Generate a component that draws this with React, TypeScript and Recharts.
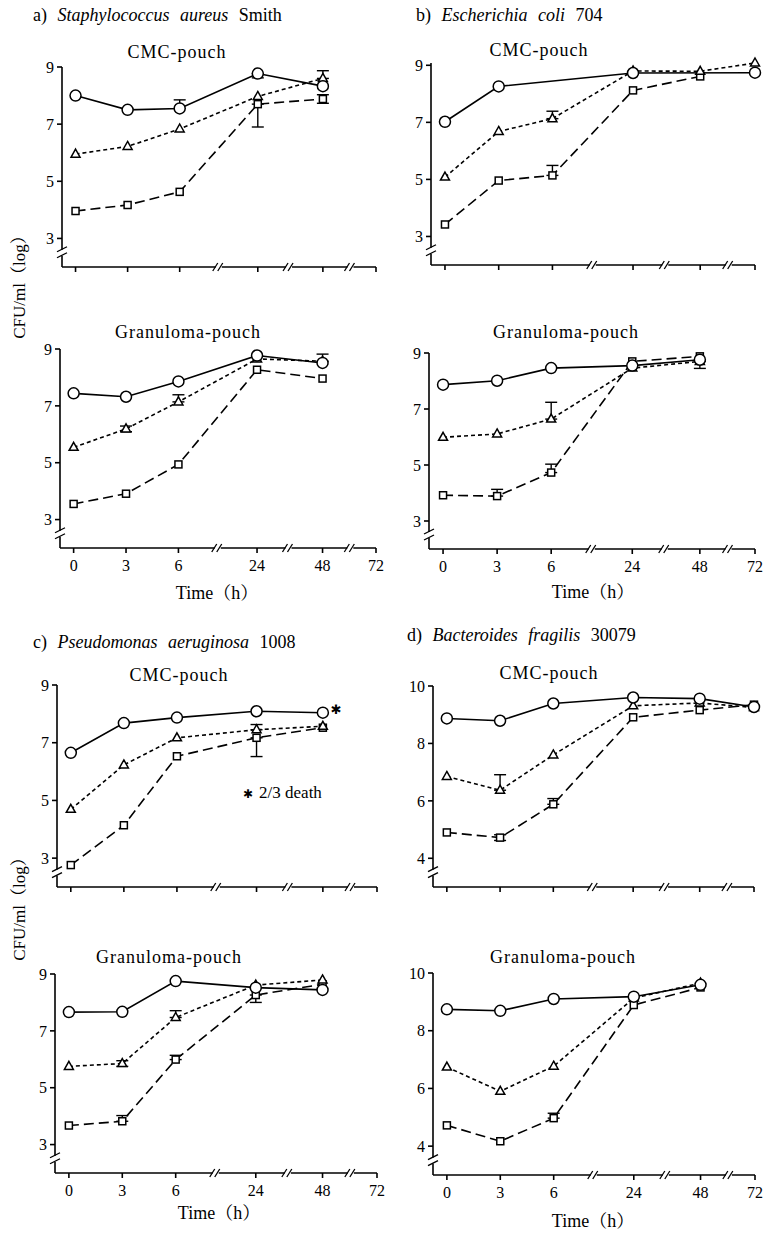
import React from "react";
import { LineChart, Line, XAxis, YAxis, ErrorBar, ReferenceDot } from "recharts";

const SERIF = "Liberation Serif, Noto Serif CJK JP, serif";

// broken time axis: each tick time sits in its own slot
const timeTicks = [0, 3, 6, 24, 48, 72];
const tickSlots = [0, 1, 2, 3.5, 4.75, 5.77];
const xBreaks = [2.75, 4.1, 5.28];

const times5 = [0, 3, 6, 24, 48];
const times6 = [0, 3, 6, 24, 48, 72];

const ticksLow = [3, 5, 7, 9];
const ticksHigh = [4, 6, 8, 10];

// a) Staphylococcus aureus Smith
const aCmcO = [8.0, 7.5, 7.55, 8.77, 8.33];
const aCmcOErr = [0, 0, [0, 0.3], [0.15, 0], 0];
const aCmcT = [5.95, 6.22, 6.83, 7.97, 8.6];
const aCmcTErr = [0, 0, 0, 0, [0, 0.27]];
const aCmcS = [3.96, 4.17, 4.63, 7.7, 7.88];
const aCmcSErr = [0, 0, 0, [0.8, 0], [0.15, 0.15]];

const aGraO = [7.44, 7.32, 7.86, 8.77, 8.51];
const aGraT = [5.54, 6.19, 7.14, 8.65, 8.57];
const aGraTErr = [0, [0.1, 0.1], [0, 0.25], 0, [0, 0.25]];
const aGraS = [3.55, 3.91, 4.94, 8.27, 7.96];

// b) Escherichia coli 704
const bCmcO = [7.02, 8.26, null, 8.73, null, 8.74];
const bCmcT = [5.08, 6.68, 7.13, 8.8, 8.79, 9.08];
const bCmcTErr = [0, 0, [0, 0.26], 0, 0, 0];
const bCmcS = [3.42, 4.96, 5.14, 8.12, 8.61, null];
const bCmcSErr = [0, 0, [0, 0.35], 0, 0, 0];

const bGraO = [7.87, 8.01, 8.46, 8.55, 8.76];
const bGraT = [5.99, 6.11, 6.64, 8.46, 8.7];
const bGraTErr = [0, 0, [0, 0.6], 0, [0.25, 0]];
const bGraS = [3.92, 3.89, 4.73, 8.7, 8.88];
const bGraSErr = [0, [0, 0.24], [0, 0.3], 0, 0];

// c) Pseudomonas aeruginosa 1008
const cCmcO = [6.65, 7.68, 7.87, 8.09, 8.04];
const cCmcT = [4.69, 6.23, 7.17, 7.45, 7.57];
const cCmcTErr = [0, 0, 0, [0, 0.18], 0];
const cCmcS = [2.76, 4.14, 6.53, 7.17, 7.52];
const cCmcSErr = [0, 0, 0, [0.65, 0], 0];

const cGraO = [7.66, 7.67, 8.75, 8.52, 8.44];
const cGraT = [5.75, 5.85, 7.47, 8.61, 8.79];
const cGraTErr = [0, [0.1, 0.1], [0, 0.24], 0, 0];
const cGraS = [3.67, 3.82, 5.99, 8.26, 8.64];
const cGraSErr = [0, [0, 0.2], [0, 0.15], [0.26, 0], 0];

// d) Bacteroides fragilis 30079
const dCmcO = [8.87, 8.79, 9.39, 9.6, 9.56, 9.27];
const dCmcT = [6.85, 6.37, 7.6, 9.31, 9.41, 9.25];
const dCmcTErr = [0, [0, 0.54], 0, 0, 0, 0];
const dCmcS = [4.9, 4.72, 5.88, 8.91, 9.16, 9.35];
const dCmcSErr = [0, [0.1, 0.1], [0, 0.2], 0, 0, 0];

const dGraO = [8.74, 8.69, 9.1, 9.18, 9.59];
const dGraT = [6.74, 5.9, 6.77, 9.13, 9.65];
const dGraS = [4.72, 4.17, 4.97, 8.89, 9.5];
const dGraSErr = [0, 0, [0, 0.17], 0, 0];

const slot = (t: number) => tickSlots[timeTicks.indexOf(t)];

const rows = (times: number[], values: (number | null)[], errs?: any[]) =>
  times.map((t, i) => ({
    x: slot(t),
    y: values[i],
    err: errs && errs[i] ? errs[i] : undefined,
  }));

const dashes: Record<string, string | undefined> = {
  circle: undefined,
  triangle: "4 3",
  square: "10 5",
};

const Marker = ({ cx, cy, kind }: any) => {
  const common = { fill: "#fff", stroke: "#000", strokeWidth: 1.5 };
  if (kind === "circle") return <circle cx={cx} cy={cy} r={5.5} {...common} />;
  if (kind === "triangle")
    return <path d={`M${cx},${cy - 5} L${cx + 4.5},${cy + 3} L${cx - 4.5},${cy + 3} Z`} {...common} />;
  return <rect x={cx - 3.5} y={cy - 3.5} width={7} height={7} {...common} />;
};

const XBreak = ({ cx, cy }: any) => (
  <g>
    <rect x={cx - 3} y={cy - 2} width={6} height={4} fill="#fff" />
    <line x1={cx - 6} y1={cy + 4} x2={cx - 1} y2={cy - 4} stroke="#000" strokeWidth={1.3} />
    <line x1={cx - 1} y1={cy + 4} x2={cx + 4} y2={cy - 4} stroke="#000" strokeWidth={1.3} />
  </g>
);

const YBreak = ({ cx, cy }: any) => (
  <g>
    <rect x={cx - 2} y={cy - 3} width={4} height={6} fill="#fff" />
    <line x1={cx - 5} y1={cy - 1} x2={cx + 5} y2={cy - 6} stroke="#000" strokeWidth={1.3} />
    <line x1={cx - 5} y1={cy + 5} x2={cx + 5} y2={cy} stroke="#000" strokeWidth={1.3} />
  </g>
);

const Star = ({ cx, cy }: any) => (
  <text x={cx + 8} y={cy + 1} fontSize={13} fontFamily="DejaVu Sans" fill="#000">
    ✱
  </text>
);

const series = (times: number[], o: any[], t: any[], s: any[], oe?: any[], te?: any[], se?: any[]) => [
  { kind: "square", data: rows(times, s, se) },
  { kind: "triangle", data: rows(times, t, te) },
  { kind: "circle", data: rows(times, o, oe) },
];

const panels = [
  { id: "aC", L: 62, T: 67, W: 314, H: 200, yMin: 2, yMax: 9, yTicks: ticksLow, labels: false,
    lines: series(times5, aCmcO, aCmcT, aCmcS, aCmcOErr, aCmcTErr, aCmcSErr) },
  { id: "aG", L: 60, T: 349, W: 316, H: 199, yMin: 2, yMax: 9, yTicks: ticksLow, labels: true,
    lines: series(times5, aGraO, aGraT, aGraS, undefined, aGraTErr) },
  { id: "bC", L: 431, T: 63, W: 324, H: 202, yMin: 2, yMax: 9, yTicks: ticksLow, labels: false,
    lines: series(times6, bCmcO, bCmcT, bCmcS, undefined, bCmcTErr, bCmcSErr) },
  { id: "bG", L: 429, T: 353, W: 326, H: 196, yMin: 2, yMax: 9, yTicks: ticksLow, labels: true,
    lines: series(times5, bGraO, bGraT, bGraS, undefined, bGraTErr, bGraSErr) },
  { id: "cC", L: 57, T: 685, W: 320, H: 202, yMin: 2, yMax: 9, yTicks: ticksLow, labels: false,
    lines: series(times5, cCmcO, cCmcT, cCmcS, undefined, cCmcTErr, cCmcSErr), star: true },
  { id: "cG", L: 55, T: 974, W: 322, H: 199, yMin: 2, yMax: 9, yTicks: ticksLow, labels: true,
    lines: series(times5, cGraO, cGraT, cGraS, undefined, cGraTErr, cGraSErr) },
  { id: "dC", L: 433, T: 686, W: 321, H: 201, yMin: 3, yMax: 10, yTicks: ticksHigh, labels: false,
    lines: series(times6, dCmcO, dCmcT, dCmcS, undefined, dCmcTErr, dCmcSErr) },
  { id: "dG", L: 433, T: 973, W: 322, H: 202, yMin: 3, yMax: 10, yTicks: ticksHigh, labels: true,
    lines: series(times5, dGraO, dGraT, dGraS, undefined, undefined, dGraSErr) },
];

const ML = 45, MT = 10, MR = 25, MB = 35;
const xMin = -0.26, xMax = tickSlots[tickSlots.length - 1];
const axisStyle = { stroke: "#000", strokeWidth: 1.6 };
const tickFont = { fill: "#000", fontSize: 16, fontFamily: "Liberation Serif" };

const Panel = ({ p }: any) => (
  <div style={{ position: "absolute", left: p.L - ML, top: p.T - MT }}>
    <LineChart width={p.W + ML + MR} height={p.H + MT + MB} margin={{ top: MT, right: MR, bottom: 5, left: 5 }}>
      <XAxis
        type="number"
        dataKey="x"
        domain={[xMin, xMax]}
        ticks={tickSlots}
        interval={0}
        height={30}
        tickSize={5}
        tickMargin={7}
        axisLine={axisStyle}
        tickLine={axisStyle}
        tick={tickFont}
        tickFormatter={(v: number) => (p.labels ? String(timeTicks[tickSlots.indexOf(v)]) : "")}
      />
      <YAxis
        type="number"
        domain={[p.yMin, p.yMax]}
        ticks={p.yTicks}
        interval={0}
        width={40}
        tickSize={5}
        tickMargin={3}
        axisLine={axisStyle}
        tickLine={axisStyle}
        tick={tickFont}
      />
      {p.lines.map((s: any) => (
        <Line
          key={s.kind}
          data={s.data}
          dataKey="y"
          type="linear"
          stroke="#000"
          strokeWidth={1.6}
          strokeDasharray={dashes[s.kind]}
          connectNulls
          isAnimationActive={false}
          activeDot={false}
          dot={(d: any) =>
            d.cx == null || d.cy == null || d.value == null ? (
              <g key={`n${d.index}`} />
            ) : (
              <Marker key={`m${d.index}`} cx={d.cx} cy={d.cy} kind={s.kind} />
            )
          }
        >
          <ErrorBar dataKey="err" direction="y" width={6} stroke="#000" strokeWidth={1.4} />
        </Line>
      ))}
      {xBreaks.map((b) => (
        <ReferenceDot key={b} x={b} y={p.yMin} r={0} ifOverflow="visible" shape={(d: any) => <XBreak cx={d.cx} cy={d.cy} />} />
      ))}
      <ReferenceDot x={xMin} y={p.yMin + 0.5} r={0} ifOverflow="visible" shape={(d: any) => <YBreak cx={d.cx} cy={d.cy} />} />
      {p.star && (
        <ReferenceDot x={slot(48)} y={cCmcO[4]} r={0} ifOverflow="visible" shape={(d: any) => <Star cx={d.cx} cy={d.cy} />} />
      )}
    </LineChart>
  </div>
);

const Txt = ({ x, y, size = 18, center = false, rotate = false, style, children }: any) => (
  <div
    style={{
      position: "absolute",
      left: x,
      top: y,
      transform: `translate(${center ? "-50%" : "0"}, -50%)${rotate ? " rotate(-90deg)" : ""}`,
      whiteSpace: "nowrap",
      fontSize: size,
      lineHeight: 1,
      fontFamily: SERIF,
      color: "#000",
      ...style,
    }}
  >
    {children}
  </div>
);

const titleStyle = { wordSpacing: 6 };
const subStyle = { letterSpacing: 1 };

export default function App() {
  return (
    <div style={{ position: "absolute", left: 0, top: 0, width: 769, height: 1233, background: "#fff" }}>
      {panels.map((p) => (
        <Panel key={p.id} p={p} />
      ))}

      <Txt x={33} y={15} style={titleStyle}>a) <i>Staphylococcus aureus</i> Smith</Txt>
      <Txt x={416} y={15} style={titleStyle}>b) <i>Escherichia coli</i> 704</Txt>
      <Txt x={33} y={642} style={titleStyle}>c) <i>Pseudomonas aeruginosa</i> 1008</Txt>
      <Txt x={407} y={635} style={titleStyle}>d) <i>Bacteroides fragilis</i> 30079</Txt>

      <Txt x={177} y={52} center style={subStyle}>CMC-pouch</Txt>
      <Txt x={188} y={332} center style={subStyle}>Granuloma-pouch</Txt>
      <Txt x={539} y={50} center style={subStyle}>CMC-pouch</Txt>
      <Txt x={566} y={332} center style={subStyle}>Granuloma-pouch</Txt>
      <Txt x={179} y={675} center style={subStyle}>CMC-pouch</Txt>
      <Txt x={169} y={957} center style={subStyle}>Granuloma-pouch</Txt>
      <Txt x={549} y={673} center style={subStyle}>CMC-pouch</Txt>
      <Txt x={563} y={957} center style={subStyle}>Granuloma-pouch</Txt>

      <Txt x={217} y={593} center>Time（h）</Txt>
      <Txt x={593} y={592} center>Time（h）</Txt>
      <Txt x={219} y={1213} center>Time（h）</Txt>
      <Txt x={593} y={1221} center>Time（h）</Txt>

      <Txt x={19} y={283} center rotate size={17}>CFU/ml（log）</Txt>
      <Txt x={19} y={905} center rotate size={17}>CFU/ml（log）</Txt>

      <Txt x={243} y={792} size={17}>
        <span style={{ fontFamily: "DejaVu Sans", fontSize: 12, marginRight: 6 }}>✱</span>2/3 death
      </Txt>
    </div>
  );
}
